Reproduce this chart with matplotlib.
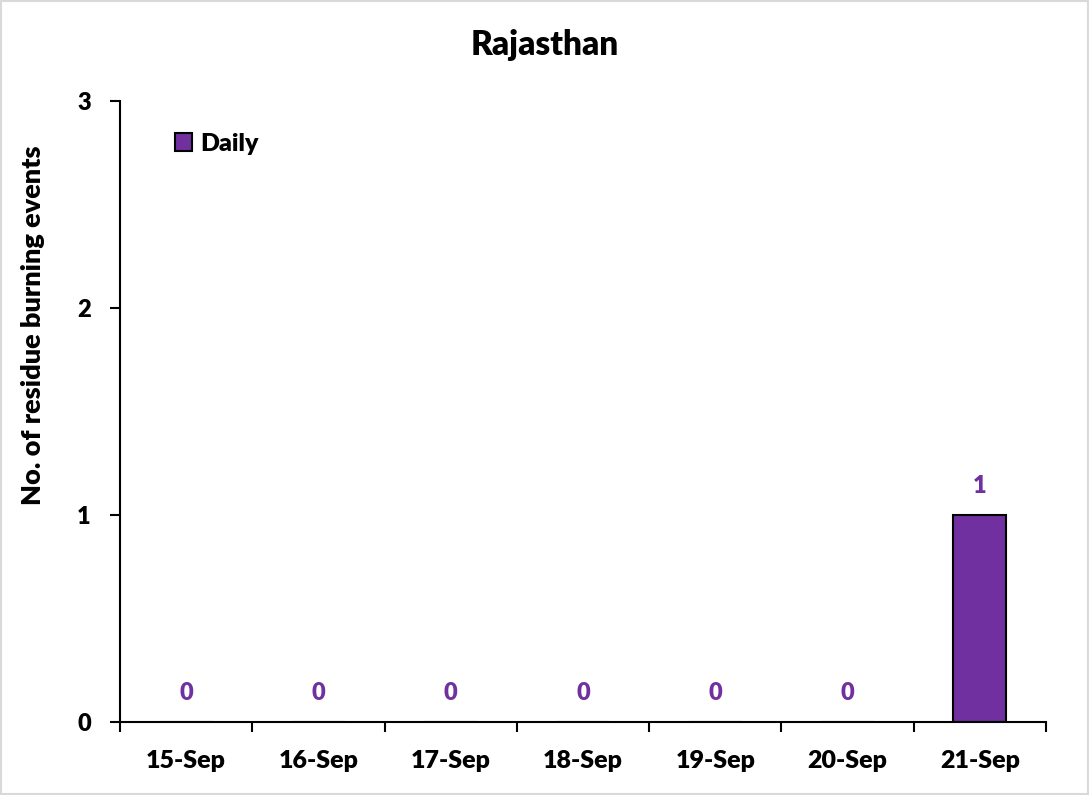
import matplotlib.pyplot as plt
import numpy as np

dates = ['15-Sep', '16-Sep', '17-Sep', '18-Sep', '19-Sep', '20-Sep', '21-Sep']
daily = [0, 0, 0, 0, 0, 0, 1]

plt.rcParams['font.family'] = ['Lato', 'DejaVu Sans']
plt.rcParams['font.weight'] = 'heavy'

purple = '#7030A0'
fig = plt.figure(figsize=(10.89, 7.95), dpi=100)
ax = fig.add_axes([0.1102, 0.0918, 0.8503, 0.7812])
x = np.arange(len(dates))
bars = ax.bar(x, daily, width=0.4, color=purple, edgecolor='black', linewidth=1.5, label='Daily')
for xi, v in zip(x, daily):
    ax.annotate(str(v), (xi, v), xytext=(0, 13), textcoords='offset points',
                ha='center', va='bottom', color=purple, fontsize=17)

ax.set_xlim(-0.5, len(dates) - 0.5)
ax.set_ylim(0, 3)
ax.set_yticks([0, 1, 2, 3])
ax.set_xticks(x)
ax.set_xticklabels(dates)
ax.set_xticks(np.arange(-0.5, len(dates)), minor=True)
ax.tick_params(axis='x', which='major', length=0, pad=20, labelsize=18)
ax.tick_params(axis='x', which='minor', length=7, width=1.5, direction='out')
ax.tick_params(axis='y', length=7, width=1.5, direction='out', labelsize=17, pad=14)
for s in ['top', 'right']:
    ax.spines[s].set_visible(False)
for s in ['left', 'bottom']:
    ax.spines[s].set_linewidth(1.5)

fig.text(0.5, 1 - 45 / 795, 'Rajasthan', ha='center', va='center', fontsize=24)
fig.text(33 / 1089, 1 - 325 / 795, 'No. of residue burning events', rotation=90,
         ha='center', va='center', fontsize=19.5)
ax.legend(loc='upper left', bbox_to_anchor=(0.035, 0.985), frameon=False, fontsize=18,
          handlelength=0.7, handleheight=0.7, handletextpad=0.3)

fig.patches.append(plt.Rectangle((0.001, 0.001), 0.998, 0.998, transform=fig.transFigure,
                                 fill=False, edgecolor='#d9d9d9', linewidth=1.5))
fig.savefig('out.png')
